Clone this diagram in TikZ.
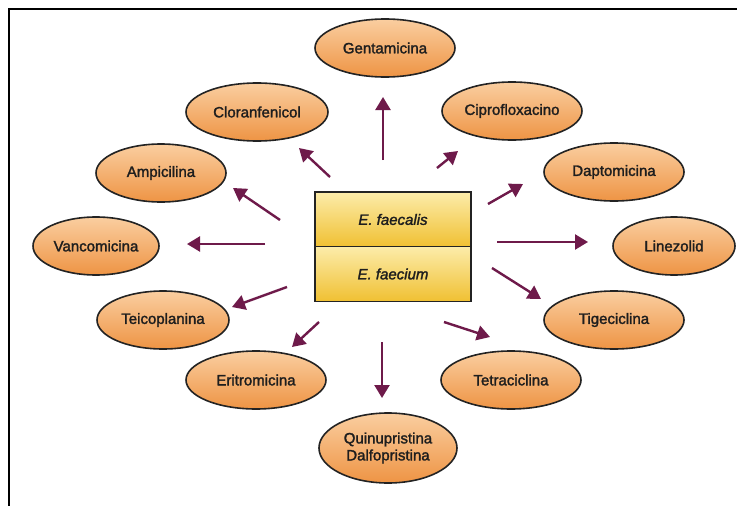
\documentclass[tikz,border=0pt]{standalone}
\usepackage{fontspec}
\setmainfont{Liberation Sans}
\newfontfamily\lblfont{Liberation Sans}[FakeBold=1.8]
\newfontfamily\lblitfont{Liberation Sans Italic}[FakeBold=1.8]
\usetikzlibrary{arrows.meta,shapes.geometric}
\definecolor{arrowcol}{RGB}{110,26,74}
\definecolor{pilltop}{RGB}{250,206,160}
\definecolor{pillbot}{RGB}{238,148,68}
\definecolor{boxtop}{RGB}{252,236,170}
\definecolor{boxbot}{RGB}{240,192,50}
\definecolor{inkgray}{RGB}{30,30,30}
\definecolor{rimgray}{RGB}{35,35,35}
\begin{document}
\begin{tikzpicture}[x=1pt,y=-1pt,
  drug/.style={ellipse, draw=rimgray, line width=1.6pt,
    top color=pilltop, bottom color=pillbot,
    minimum width=140pt, minimum height=58pt, inner sep=0pt,
    font=\lblfont\fontsize{15}{17}\selectfont, text=inkgray, align=center},
  species/.style={rectangle, draw=rimgray, line width=1.8pt,
    top color=boxtop, bottom color=boxbot,
    minimum width=156pt, minimum height=55pt, inner sep=0pt,
    font=\lblitfont\fontsize{15}{17}\selectfont, text=inkgray},
  link/.style={draw=arrowcol, line width=2.4pt,
    -{Triangle[length=13pt,width=15pt]}}]
\useasboundingbox (0,0) rectangle (737,506);
\fill[white] (0,0) rectangle (737,506);
% frame
\draw[line width=2pt] (9,506) -- (9,9) -- (737,9);

% central species box
\node[species] (fcl) at (393,219.5) {E. faecalis};
\node[species] (fcm) at (393,274) {E. faecium};

% antibiotics
\node[drug] (gen) at (385,48) {Gentamicina};
\node[drug, minimum width=142pt] (clo) at (257,112) {Cloranfenicol};
\node[drug] (cip) at (512,111) {Ciprofloxacino};
\node[drug, minimum width=130pt] (amp) at (161,173) {Ampicilina};
\node[drug] (dap) at (614,172) {Daptomicina};
\node[drug, minimum width=126pt] (van) at (96,246) {Vancomicina};
\node[drug, minimum width=122pt] (lin) at (674,246) {Linezolid};
\node[drug, minimum width=132pt] (tei) at (163,320) {Teicoplanina};
\node[drug] (tig) at (614,320) {Tigeciclina};
\node[drug] (eri) at (256,380) {Eritromicina};
\node[drug] (tet) at (511,380) {Tetraciclina};
\node[drug, minimum width=138pt, minimum height=70pt] (qd) at (388,448) {Quinupristina\\Dalfopristina};

% arrow ends
\coordinate (t-gen) at (383,160); \coordinate (h-gen) at (383,97);
\coordinate (t-clo) at (330,177); \coordinate (h-clo) at (299,148);
\coordinate (t-cip) at (437,168); \coordinate (h-cip) at (458,151);
\coordinate (t-amp) at (280,220); \coordinate (h-amp) at (233,188);
\coordinate (t-dap) at (488,204); \coordinate (h-dap) at (523,184);
\coordinate (t-van) at (265,244); \coordinate (h-van) at (187,244);
\coordinate (t-lin) at (497,242); \coordinate (h-lin) at (588,242);
\coordinate (t-tei) at (287,287); \coordinate (h-tei) at (232,307);
\coordinate (t-tig) at (492,268); \coordinate (h-tig) at (541,299);
\coordinate (t-eri) at (319,322); \coordinate (h-eri) at (292,347);
\coordinate (t-tet) at (444,322); \coordinate (h-tet) at (490,337);
\coordinate (t-qd)  at (382,342); \coordinate (h-qd)  at (382,398);

\foreach \k in {gen,clo,cip,amp,dap,van,lin,tei,tig,eri,tet,qd}
  \draw[link] (t-\k) -- (h-\k);
\end{tikzpicture}
\end{document}
